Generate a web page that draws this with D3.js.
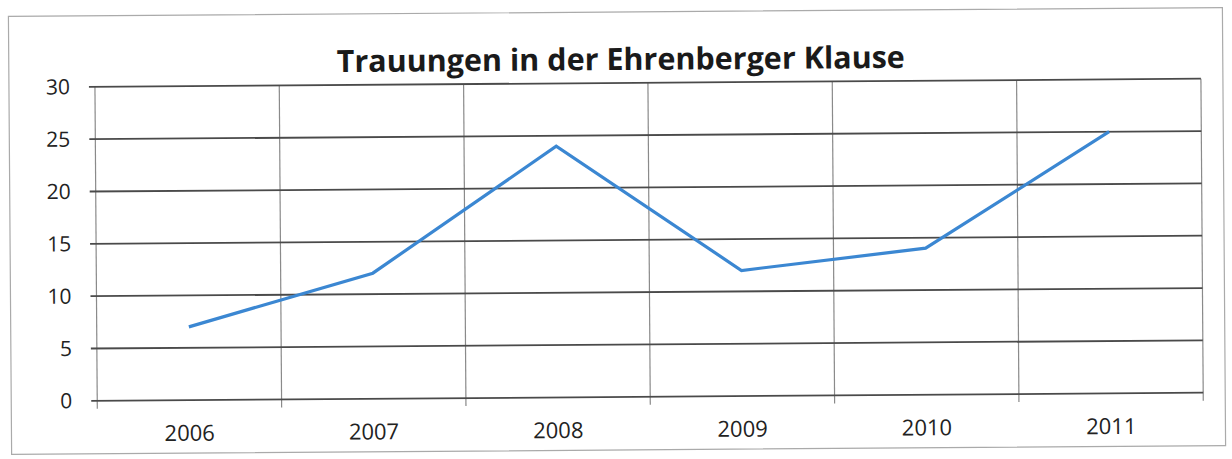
<!DOCTYPE html>
<html>
<head>
<meta charset="utf-8">
<script src="https://cdn.jsdelivr.net/npm/d3@7"></script>
<style>
  body { margin: 0; background: #fff; }
  svg { display: block; }
</style>
</head>
<body>
<svg id="chart" width="1232" height="459"></svg>
<script>
const title = 'Trauungen in der Ehrenberger Klause'
const years = ['2006', '2007', '2008', '2009', '2010', '2011']
const trauungen = [7, 12, 24, 12, 14, 25]
const yTicks = [0, 5, 10, 15, 20, 25, 30]

let svg = d3.select('#chart'),
    width = +svg.attr('width'),
    height = +svg.attr('height'),
    m = {left: 96, right: 30, top: 83, bottom: 62}

// scan is a bit tilted, rotate the whole thing a little
let g = svg.append('g')
    .attr('transform', 'rotate(-0.42,' + width / 2 + ',' + height / 2 + ')')

// outer frame
g.append('rect')
    .attr('x', 10).attr('y', 12)
    .attr('width', 1214).attr('height', 438)
    .attr('fill', 'none')
    .attr('stroke', '#aaa')
    .attr('stroke-width', 1.2)

let x = d3.scaleBand().domain(years).range([m.left, width - m.right])
let y = d3.scaleLinear().domain([0, 30]).range([height - m.bottom, m.top])

// vertical grid (category borders)
let xEdges = years.map(d => x(d)).concat([x.range()[1]])
g.selectAll('.vgrid').data(xEdges).enter().append('line')
    .attr('class', 'vgrid')
    .attr('x1', d => d).attr('x2', d => d)
    .attr('y1', y(30)).attr('y2', y(0) + 8)
    .attr('stroke', '#8a8a8a')
    .attr('stroke-width', 1.2)

// horizontal grid
g.selectAll('.hgrid').data(yTicks).enter().append('line')
    .attr('class', 'hgrid')
    .attr('x1', m.left - 6).attr('x2', width - m.right)
    .attr('y1', d => y(d)).attr('y2', d => y(d))
    .attr('stroke', '#4a4a4a')
    .attr('stroke-width', 1.8)

// y labels
let yAxis = d3.axisLeft(y).tickValues(yTicks).tickSize(0).tickPadding(25)
g.append('g')
    .attr('transform', 'translate(' + m.left + ',0)')
    .call(yAxis)
    .call(a => a.select('.domain').remove())
    .selectAll('text')
    .attr('font-family', 'Open Sans, sans-serif')
    .attr('font-size', 21)
    .attr('fill', '#222')

// x labels
let xAxis = d3.axisBottom(x).tickSize(0).tickPadding(25)
g.append('g')
    .attr('transform', 'translate(0,' + y(0) + ')')
    .call(xAxis)
    .call(a => a.select('.domain').remove())
    .selectAll('text')
    .attr('font-family', 'Open Sans, sans-serif')
    .attr('font-size', 22)
    .attr('fill', '#222')

// the line
let line = d3.line()
    .x((d, i) => x(years[i]) + x.bandwidth() / 2)
    .y(d => y(d))

g.append('path')
    .datum(trauungen)
    .attr('d', line)
    .attr('fill', 'none')
    .attr('stroke', '#3b87d2')
    .attr('stroke-width', 3.2)
    .attr('stroke-linejoin', 'miter')

// title
g.append('text')
    .attr('x', 622).attr('y', 70)
    .attr('text-anchor', 'middle')
    .attr('font-family', 'Open Sans, sans-serif')
    .attr('font-weight', 'bold')
    .attr('font-size', 30.5)
    .attr('fill', '#1a1a1a')
    .text(title)
</script>
</body>
</html>
